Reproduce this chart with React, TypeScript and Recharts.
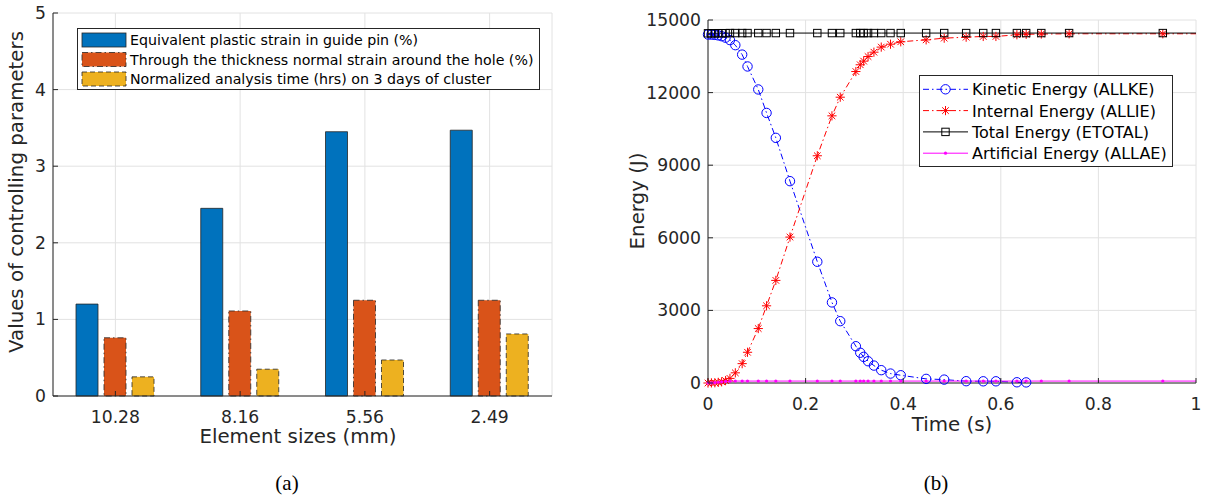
import React from 'react'
import { BarChart, Bar, LineChart, Line, XAxis, YAxis, CartesianGrid } from 'recharts'

// (a) bar chart values
const SIZES = ['10.28', '8.16', '5.56', '2.49']
const PLASTIC_STRAIN = [1.2, 2.45, 3.45, 3.47]
const NORMAL_STRAIN = [0.76, 1.11, 1.25, 1.25]
const ANALYSIS_TIME = [0.25, 0.35, 0.47, 0.81]
const BAR_TICKS = [0, 1, 2, 3, 4, 5]
const BAR_LABELS = [
  'Equivalent plastic strain in guide pin (%)',
  'Through the thickness normal strain around the hole (%)',
  'Normalized analysis time (hrs) on 3 days of cluster',
]

// (b) energy history
const TIME = [0, 0.007, 0.014, 0.021, 0.028, 0.036, 0.045, 0.056, 0.07, 0.081, 0.103, 0.12, 0.139, 0.168, 0.224, 0.254, 0.271, 0.303, 0.312, 0.319, 0.328, 0.34, 0.355, 0.374, 0.395, 0.447, 0.484, 0.529, 0.564, 0.59, 0.633, 0.652, 0.683, 0.74, 0.932, 1]
const ALLKE = [14400, 14395, 14385, 14365, 14330, 14270, 14170, 13960, 13570, 13080, 12130, 11160, 10130, 8340, 5010, 3330, 2555, 1520, 1250, 1080, 900, 720, 530, 390, 320, 170, 140, 75, 70, 70, 30, 25, null, null, null, null]
const ALLIE = [0, 5, 10, 25, 50, 100, 190, 420, 800, 1270, 2250, 3190, 4240, 6030, 9390, 11040, 11810, 12870, 13150, 13300, 13490, 13670, 13880, 14000, 14100, 14180, 14250, 14290, 14320, 14320, 14390, 14410, 14420, 14430, 14430, 14430]
const ETOTAL = [14450, 14450, 14450, 14455, 14455, 14455, 14460, 14460, 14460, 14460, 14460, 14460, 14460, 14460, 14460, 14460, 14460, 14460, 14460, 14460, 14460, 14460, 14460, 14460, 14460, 14460, 14460, 14460, 14460, 14460, 14460, 14460, 14460, 14460, 14460, 14460]
const ALLAE = [0, 5, 15, 30, 50, 65, 75, 80, 80, 80, 80, 80, 80, 80, 80, 80, 80, 80, 80, 80, 80, 80, 80, 80, 80, 80, 80, 80, 80, 80, 80, 80, 80, 80, 80, 80]
const ENERGY_TICKS = [0, 3000, 6000, 9000, 12000, 15000]
const TIME_TICKS = [0, 0.2, 0.4, 0.6, 0.8, 1]
const ENERGY_LABELS = ['Kinetic Energy (ALLKE)', 'Internal Energy (ALLIE)', 'Total Energy (ETOTAL)', 'Artificial Energy (ALLAE)']

const INK = '#262626'
const GRID = '#e2e2e2'
const FONT = '"DejaVu Sans", sans-serif'
const BLUE = '#0072BD'
const ORANGE = '#D95319'
const YELLOW = '#EDB120'
const DASHDOT = '6 3 1.5 3'

const barRows = SIZES.map((s, i) => ({
  size: s,
  plastic: PLASTIC_STRAIN[i],
  normal: NORMAL_STRAIN[i],
  time: ANALYSIS_TIME[i],
}))

const energyRows = TIME.map((t, i) => ({
  t,
  ke: ALLKE[i],
  ie: ALLIE[i],
  te: ETOTAL[i],
  ae: ALLAE[i],
}))

// MATLAB style ticks: marks point into the plot box
function BottomTick({ x, y, payload }: any) {
  return (
    <g>
      <line x1={x} y1={y} x2={x} y2={y - 5} stroke={INK} />
      <text x={x} y={y + 27} textAnchor="middle" fill={INK} fontSize={17.2} fontFamily={FONT}>{String(payload.value)}</text>
    </g>
  )
}
function TopTick({ x, y }: any) {
  return <line x1={x} y1={y} x2={x} y2={y + 5} stroke={INK} />
}
function LeftTick({ x, y, payload }: any) {
  return (
    <g>
      <line x1={x} y1={y} x2={x + 5} y2={y} stroke={INK} />
      <text x={x - 7} y={y + 6} textAnchor="end" fill={INK} fontSize={17.2} fontFamily={FONT}>{String(payload.value)}</text>
    </g>
  )
}
function RightTick({ x, y }: any) {
  return <line x1={x} y1={y} x2={x - 5} y2={y} stroke={INK} />
}

function circleMark(cx: number, cy: number) {
  return <circle cx={cx} cy={cy} r={4.7} fill="none" stroke="#0000ff" strokeWidth={1} />
}
function starMark(cx: number, cy: number) {
  const a = 4.6, d = 3.3
  return (
    <g stroke="#ff0000" strokeWidth={1}>
      <line x1={cx - a} y1={cy} x2={cx + a} y2={cy} />
      <line x1={cx} y1={cy - a} x2={cx} y2={cy + a} />
      <line x1={cx - d} y1={cy - d} x2={cx + d} y2={cy + d} />
      <line x1={cx - d} y1={cy + d} x2={cx + d} y2={cy - d} />
    </g>
  )
}
function squareMark(cx: number, cy: number) {
  return <rect x={cx - 3.7} y={cy - 3.7} width={7.4} height={7.4} fill="none" stroke="#000" strokeWidth={1} />
}
function dotMark(cx: number, cy: number) {
  return <circle cx={cx} cy={cy} r={1.6} fill="#ff00ff" />
}

function makeDot(mark: (cx: number, cy: number) => any) {
  return (props: any) => {
    const { cx, cy, payload, index } = props
    if (cx == null || cy == null || payload == null || payload.t >= 1) return <g key={index} />
    return <g key={index}>{mark(cx, cy)}</g>
  }
}

const ENERGY_STYLES = [
  { color: '#0000ff', dash: DASHDOT, mark: circleMark },
  { color: '#ff0000', dash: DASHDOT, mark: starMark },
  { color: '#000000', dash: undefined, mark: squareMark },
  { color: '#ff00ff', dash: undefined, mark: dotMark },
]

const BAR_STYLES = [
  { fill: BLUE, dash: undefined },
  { fill: ORANGE, dash: DASHDOT },
  { fill: YELLOW, dash: '5 3' },
]

function Overlay() {
  return (
    <svg width={1207} height={498} style={{ position: 'absolute', left: 0, top: 0, pointerEvents: 'none' }}>
      {/* axis titles */}
      <g fontFamily={FONT} fill={INK} fontSize={19.8}>
        <text transform="translate(22.5,192) rotate(-90)" textAnchor="middle">Values of controlling parameters</text>
        <text x={298} y={443} textAnchor="middle">Element sizes (mm)</text>
        <text transform="translate(644,201) rotate(-90)" textAnchor="middle">Energy (J)</text>
        <text x={952} y={431} textAnchor="middle">Time (s)</text>
      </g>

      {/* legend (a) */}
      <rect x={77.5} y={28.5} width={462} height={61} fill="#fff" stroke={INK} strokeWidth={1} />
      {BAR_LABELS.map((label, i) => {
        const cy = 40 + i * 19.5
        const st = BAR_STYLES[i]
        return (
          <g key={label}>
            <rect x={82} y={cy - 7} width={44} height={14} fill={st.fill} stroke={INK} strokeWidth={0.8} strokeDasharray={st.dash} />
            <text x={130} y={cy + 5} fontFamily={FONT} fontSize={14.2} fill="#000">{label}</text>
          </g>
        )
      })}

      {/* legend (b) */}
      <rect x={919.5} y={75.5} width={253} height={91} fill="#fff" stroke={INK} strokeWidth={1} />
      {ENERGY_LABELS.map((label, i) => {
        const cy = 89.3 + i * 21.3
        const st = ENERGY_STYLES[i]
        return (
          <g key={label}>
            <line x1={923} y1={cy} x2={968} y2={cy} stroke={st.color} strokeWidth={1} strokeDasharray={st.dash} />
            {st.mark(945.5, cy)}
            <text x={972} y={cy + 6} fontFamily={FONT} fontSize={16} fill="#000">{label}</text>
          </g>
        )
      })}

      {/* sub-figure captions */}
      <g fontFamily='"Liberation Serif", serif' fontSize={21} fill="#000">
        <text x={287} y={490} textAnchor="middle">(a)</text>
        <text x={936} y={490} textAnchor="middle">(b)</text>
      </g>
    </svg>
  )
}

export default function App() {
  return (
    <div style={{ position: 'absolute', left: 0, top: 0, width: 1207, height: 498, background: '#fff', fontFamily: FONT }}>
      <div style={{ position: 'absolute', left: 0, top: 0 }}>
        <BarChart width={600} height={460} data={barRows} margin={{ top: 13, right: 48, bottom: 34, left: 13 }} barSize={22} barGap={6}>
          <CartesianGrid stroke={GRID} />
          <XAxis dataKey="size" height={30} interval={0} tickSize={0} tickMargin={0} tickLine={false} axisLine={{ stroke: INK }} tick={BottomTick} />
          <XAxis xAxisId="top" orientation="top" dataKey="size" height={0} interval={0} tickSize={0} tickMargin={0} tickLine={false} axisLine={{ stroke: INK }} tick={TopTick} />
          <YAxis type="number" domain={[0, 5]} ticks={BAR_TICKS} width={40} interval={0} tickSize={0} tickMargin={0} tickLine={false} axisLine={{ stroke: INK }} tick={LeftTick} />
          <YAxis yAxisId="right" orientation="right" type="number" domain={[0, 5]} ticks={BAR_TICKS} width={0} interval={0} tickSize={0} tickMargin={0} tickLine={false} axisLine={{ stroke: INK }} tick={RightTick} />
          <Bar dataKey="plastic" fill={BLUE} stroke={INK} strokeWidth={0.8} isAnimationActive={false} />
          <Bar dataKey="normal" fill={ORANGE} stroke={INK} strokeWidth={0.8} strokeDasharray={DASHDOT} isAnimationActive={false} />
          <Bar dataKey="time" fill={YELLOW} stroke={INK} strokeWidth={0.8} strokeDasharray="5 3" isAnimationActive={false} />
        </BarChart>
      </div>

      <div style={{ position: 'absolute', left: 600, top: 0 }}>
        <LineChart width={607} height={460} data={energyRows} margin={{ top: 20, right: 11, bottom: 47, left: 48 }}>
          <CartesianGrid stroke={GRID} />
          <XAxis dataKey="t" type="number" domain={[0, 1]} ticks={TIME_TICKS} height={30} interval={0} tickSize={0} tickMargin={0} tickLine={false} axisLine={{ stroke: INK }} tick={BottomTick} />
          <XAxis xAxisId="top" orientation="top" dataKey="t" type="number" domain={[0, 1]} ticks={TIME_TICKS} height={0} interval={0} tickSize={0} tickMargin={0} tickLine={false} axisLine={{ stroke: INK }} tick={TopTick} />
          <YAxis type="number" domain={[0, 15000]} ticks={ENERGY_TICKS} width={60} interval={0} tickSize={0} tickMargin={0} tickLine={false} axisLine={{ stroke: INK }} tick={LeftTick} />
          <YAxis yAxisId="right" orientation="right" type="number" domain={[0, 15000]} ticks={ENERGY_TICKS} width={0} interval={0} tickSize={0} tickMargin={0} tickLine={false} axisLine={{ stroke: INK }} tick={RightTick} />
          <Line dataKey="ke" type="linear" stroke="#0000ff" strokeWidth={1} strokeDasharray={DASHDOT} dot={makeDot(circleMark)} activeDot={false} isAnimationActive={false} />
          <Line dataKey="ie" type="linear" stroke="#ff0000" strokeWidth={1} strokeDasharray={DASHDOT} dot={makeDot(starMark)} activeDot={false} isAnimationActive={false} />
          <Line dataKey="te" type="linear" stroke="#000000" strokeWidth={1} dot={makeDot(squareMark)} activeDot={false} isAnimationActive={false} />
          <Line dataKey="ae" type="linear" stroke="#ff00ff" strokeWidth={1} dot={makeDot(dotMark)} activeDot={false} isAnimationActive={false} />
        </LineChart>
      </div>

      <Overlay />
    </div>
  )
}
